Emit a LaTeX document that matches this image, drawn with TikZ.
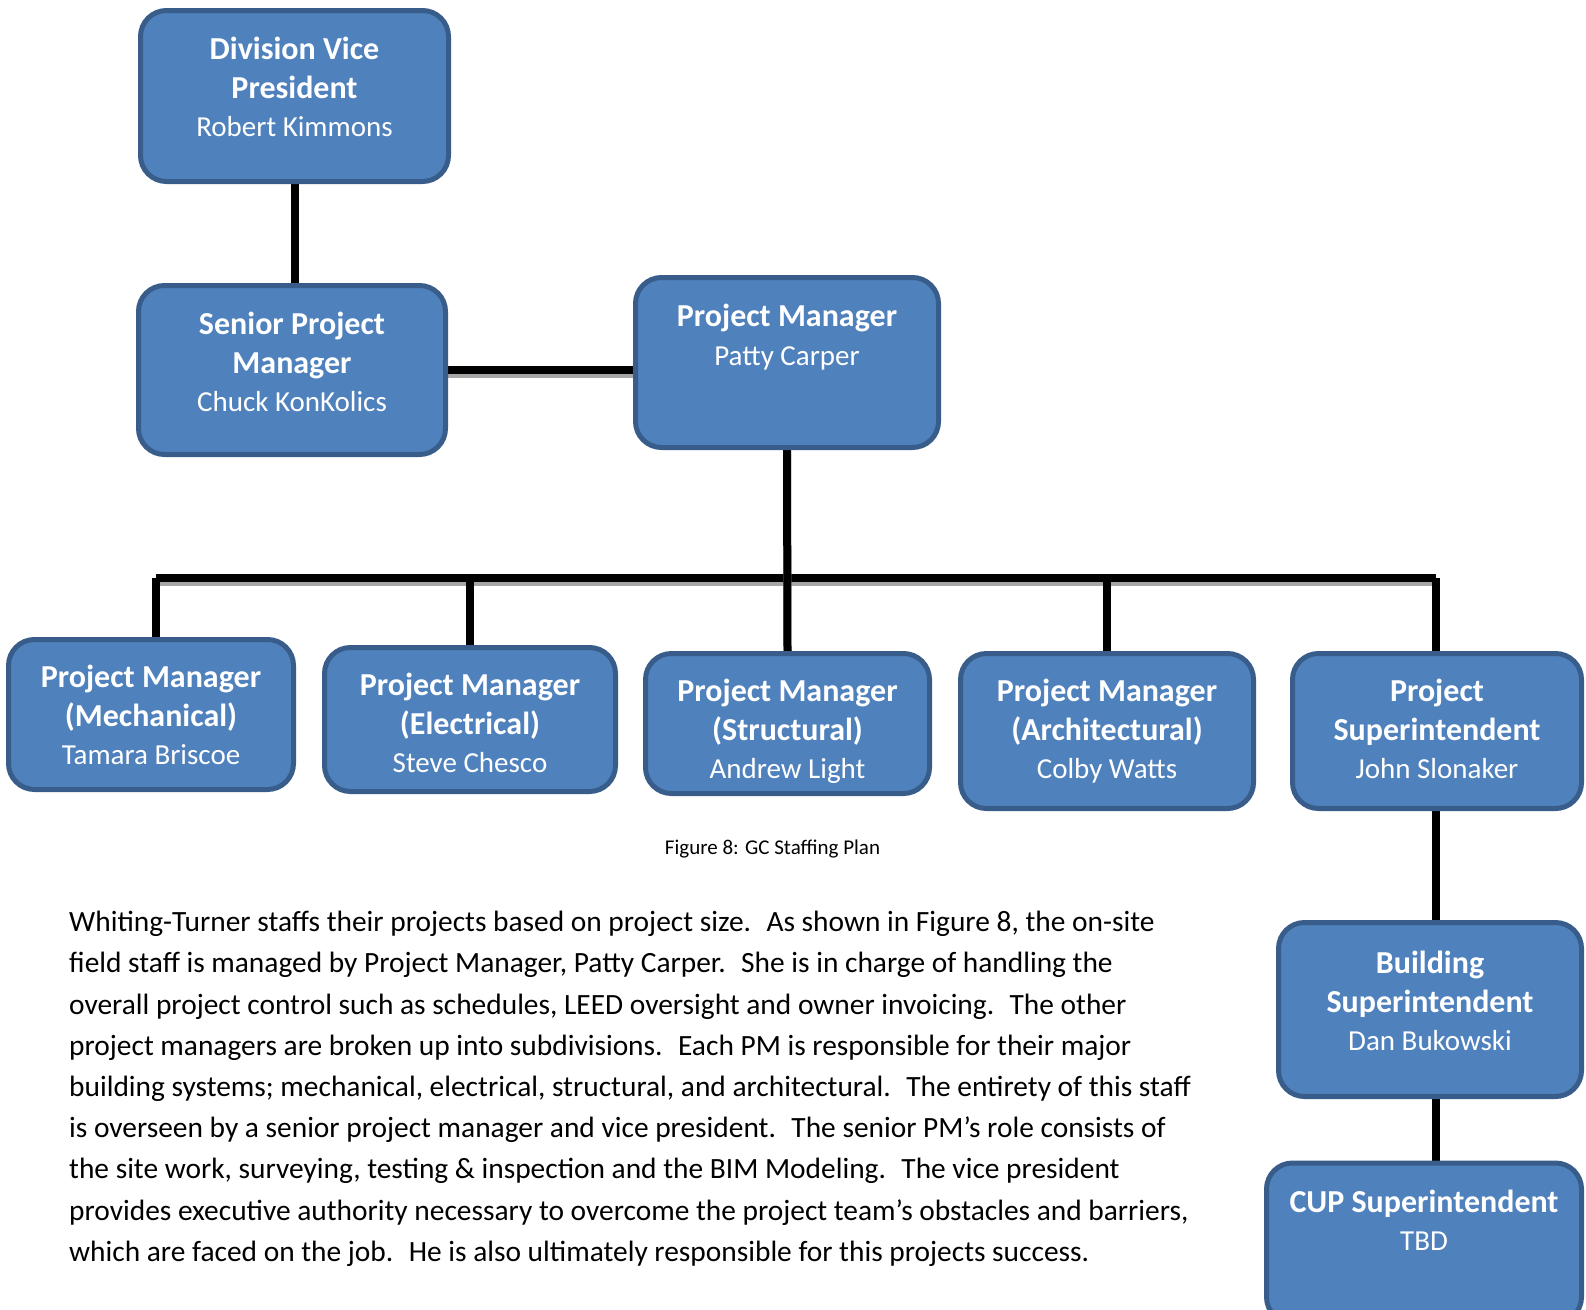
\documentclass[tikz,border=0pt]{standalone}
\usepackage{fontspec}
\setmainfont{Carlito}
\pgfdeclarelayer{background}
\pgfsetlayers{background,main}
\definecolor{boxfill}{HTML}{4F81BD}
\definecolor{boxborder}{HTML}{385D8A}
\definecolor{shadowgrey}{HTML}{A6A6A6}
\tikzset{
  staffbox/.style={draw=boxborder, line width=5pt, fill=boxfill, rounded corners=26pt, inner sep=0pt},
  stafftext/.style={text=white, align=center, anchor=north, inner sep=0pt,
    font=\fontsize{29}{38.5}\selectfont, execute at begin node={\rule{0pt}{24pt}}},
  tie/.style={line width=8pt, black,
    preaction={draw=shadowgrey, line width=8pt, transform canvas={yshift=-4pt}}}
}
\newcommand{\boldline}[1]{{\bfseries\fontsize{32}{38.5}\selectfont #1}}
\begin{document}
\begin{tikzpicture}[x=1pt,y=-1pt]
	\useasboundingbox (0,0) rectangle (1586,1309);
	% boxes
	\node [staffbox, minimum width=308pt, minimum height=171pt] (dvp) at (294.5,96) {};
	\node [staffbox, minimum width=307pt, minimum height=169pt] (spm) at (292,370) {};
	\node [staffbox, minimum width=303pt, minimum height=170pt] (pm) at (787,362.5) {};
	\node [staffbox, minimum width=285pt, minimum height=150pt] (mech) at (151,714.5) {};
	\node [staffbox, minimum width=291pt, minimum height=144pt] (elec) at (470,719.5) {};
	\node [staffbox, minimum width=284pt, minimum height=140pt] (strc) at (787.5,723.5) {};
	\node [staffbox, minimum width=293pt, minimum height=155pt] (arch) at (1107,731) {};
	\node [staffbox, minimum width=289pt, minimum height=155pt] (supt) at (1437,731) {};
	\node [staffbox, minimum width=303pt, minimum height=174pt] (bldg) at (1430,1009.5) {};
	\node [staffbox, minimum width=315pt, minimum height=160pt] (cup) at (1424,1243) {};
	% box texts
	\node [stafftext] (dvp-t) at ([yshift=-29pt]dvp.north) {\boldline{Division Vice}\\\boldline{President}\\Robert Kimmons};
	\node [stafftext] (spm-t) at ([yshift=-29pt]spm.north) {\boldline{Senior Project}\\\boldline{Manager}\\Chuck KonKolics};
	\node [stafftext] (pm-t) at ([yshift=-29pt]pm.north) {\boldline{Project Manager}\\Patty Carper};
	\node [stafftext] (mech-t) at ([yshift=-28pt]mech.north) {\boldline{Project Manager}\\\boldline{(Mechanical)}\\Tamara Briscoe};
	\node [stafftext] (elec-t) at ([yshift=-28pt]elec.north) {\boldline{Project Manager}\\\boldline{(Electrical)}\\Steve Chesco};
	\node [stafftext] (strc-t) at ([yshift=-28pt]strc.north) {\boldline{Project Manager}\\\boldline{(Structural)}\\Andrew Light};
	\node [stafftext] (arch-t) at ([yshift=-28pt]arch.north) {\boldline{Project Manager}\\\boldline{(Architectural)}\\Colby Watts};
	\node [stafftext] (supt-t) at ([yshift=-28pt]supt.north) {\boldline{Project}\\\boldline{Superintendent}\\John Slonaker};
	\node [stafftext] (bldg-t) at ([yshift=-31pt]bldg.north) {\boldline{Building}\\\boldline{Superintendent}\\Dan Bukowski};
	\node [stafftext] (cup-t) at ([yshift=-29pt]cup.north) {\boldline{CUP Superintendent}\\TBD};
	% connectors
	\coordinate (busL) at (156,578);
	\coordinate (busR) at (1436,578);
	\begin{pgfonlayer}{background}
		\draw [tie] (dvp.south) -- (dvp.south |- spm.north);
		\draw [tie] (spm.east) -- (pm.west |- spm.east);
		\draw [tie] (busL) -- (busR);
		\draw [tie] (pm.south) -- (strc.north);
		\draw [tie] (busL) -- (busL |- mech.north);
		\draw [tie] (elec.north |- busL) -- (elec.north);
		\draw [tie] (arch.north |- busL) -- (arch.north);
		\draw [tie] (busR) -- (busR |- supt.north);
		\draw [tie] (busR |- supt.south) -- (busR |- bldg.north);
		\draw [tie] (busR |- bldg.south) -- (busR |- cup.north);
	\end{pgfonlayer}
	% caption and body text
	\node [font=\fontsize{21}{25}\selectfont, inner sep=0pt] (caption) at (772.5,849) {Figure 8: GC Staffing Plan};
	\node [anchor=north west, align=left, inner sep=0pt, font=\fontsize{29.4}{41.2}\selectfont,
		execute at begin node={\rule{0pt}{24pt}}] (body) at (69,911) {%
		Whiting-Turner staffs their projects based on project size.~ As shown in Figure 8, the on-site\\
		field staff is managed by Project Manager, Patty Carper.~ She is in charge of handling the\\
		overall project control such as schedules, LEED oversight and owner invoicing.~ The other\\
		project managers are broken up into subdivisions.~ Each PM is responsible for their major\\
		building systems; mechanical, electrical, structural, and architectural.~ The entirety of this staff\\
		is overseen by a senior project manager and vice president.~ The senior PM’s role consists of\\
		the site work, surveying, testing \& inspection and the BIM Modeling.~ The vice president\\
		provides executive authority necessary to overcome the project team’s obstacles and barriers,\\
		which are faced on the job.~ He is also ultimately responsible for this projects success.};
\end{tikzpicture}
\end{document}
